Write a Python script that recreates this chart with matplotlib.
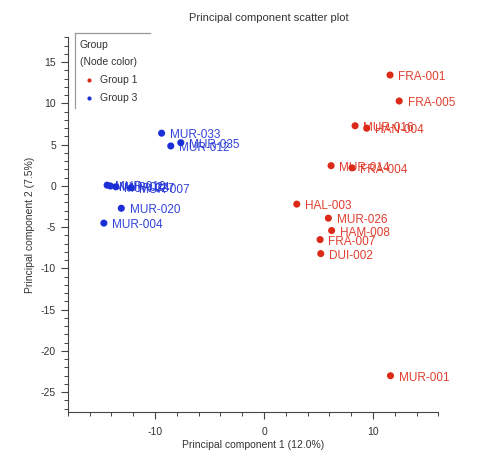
import matplotlib
matplotlib.use("Agg")
import matplotlib.pyplot as plt
from matplotlib.lines import Line2D

plt.rcParams['font.family'] = ['Liberation Sans', 'DejaVu Sans']
plt.rcParams['axes.unicode_minus'] = False

# Group 1 samples
g1_names = ["FRA-001", "FRA-005", "MUR-016", "HAN-004", "MUR-014", "FRA-004",
            "HAL-003", "MUR-026", "HAM-008", "FRA-007", "DUI-002", "MUR-001"]
g1_pc1 = [11.56, 12.4, 8.35, 9.42, 6.15, 8.07, 3.0, 5.9, 6.2, 5.14, 5.2, 11.6]
g1_pc2 = [13.45, 10.3, 7.3, 7.0, 2.46, 2.2, -2.2, -3.9, -5.4, -6.5, -8.2, -23.0]

# Group 3 samples
g3_names = ["MUR-033", "MUR-035", "MUR-012", "MUR-010", "MUR-024", "MUR-027",
            "MUR-007", "MUR-020", "MUR-004"]
g3_pc1 = [-9.4, -7.64, -8.56, -14.4, -14.1, -13.6, -12.2, -13.1, -14.7]
g3_pc2 = [6.4, 5.25, 4.85, 0.1, 0.0, -0.1, -0.2, -2.7, -4.5]

red = "#dc2a18"
blue = "#1c2fd6"
tick_color = "#444444"

fig = plt.figure(figsize=(4.85, 4.5), dpi=100)
ax = fig.add_axes([0.140, 0.0844, 0.764, 0.8323])

for names, xs, ys, col in [(g1_names, g1_pc1, g1_pc2, red),
                           (g3_names, g3_pc1, g3_pc2, blue)]:
    ax.scatter(xs, ys, s=26, color=col, edgecolors='none', zorder=3)
    for n, x, y in zip(names, xs, ys):
        ax.annotate(n, (x, y), xytext=(6, -1.5), textcoords='offset points',
                    fontsize=8.5, color=col, va='center', ha='left', alpha=0.9)

ax.set_xlim(-18, 16)
ax.set_ylim(-27.4, 18)

for s in ['top', 'right']:
    ax.spines[s].set_visible(False)
for s in ['left', 'bottom']:
    ax.spines[s].set_color(tick_color)
    ax.spines[s].set_linewidth(0.8)

ax.set_xticks([-10, 0, 10])
ax.set_xticks(range(-18, 17, 2), minor=True)
ax.set_yticks(range(-25, 16, 5))
ax.set_yticks(range(-27, 19, 1), minor=True)
ax.tick_params(which='major', length=5, width=0.8, color=tick_color,
               labelsize=7.5, labelcolor='#333333')
ax.tick_params(axis='x', which='major', pad=6)
ax.tick_params(which='minor', length=3, width=0.7, color=tick_color)

ax.set_xlabel("Principal component 1 (12.0%)", fontsize=7.5, color='#333333', labelpad=2)
ax.set_ylabel("Principal component 2 (7.5%)", fontsize=7.5, color='#333333', labelpad=4)
fig.text(0.555, 0.96, "Principal component scatter plot", fontsize=8,
         color='#333333', ha='center', va='center')

# Legend panel with top and left rule
fig.add_artist(Line2D([75/485, 75/485], [1 - 33/450, 1 - 108/450],
                      color='#999999', lw=0.9))
fig.add_artist(Line2D([75/485, 150/485], [1 - 33/450, 1 - 33/450],
                      color='#999999', lw=0.9))
fig.text(80/485, 1 - 45/450, "Group", fontsize=7.5, color='#333333', va='center')
fig.text(80/485, 1 - 62/450, "(Node color)", fontsize=7.5, color='#333333', va='center')
fig.add_artist(Line2D([89/485], [1 - 80/450], marker='o', markersize=3,
                      color=red, markeredgewidth=0))
fig.text(100/485, 1 - 80/450, "Group 1", fontsize=7.5, color='#333333', va='center')
fig.add_artist(Line2D([89/485], [1 - 98/450], marker='o', markersize=3,
                      color=blue, markeredgewidth=0))
fig.text(100/485, 1 - 98/450, "Group 3", fontsize=7.5, color='#333333', va='center')

fig.savefig("out.png", dpi=100)
